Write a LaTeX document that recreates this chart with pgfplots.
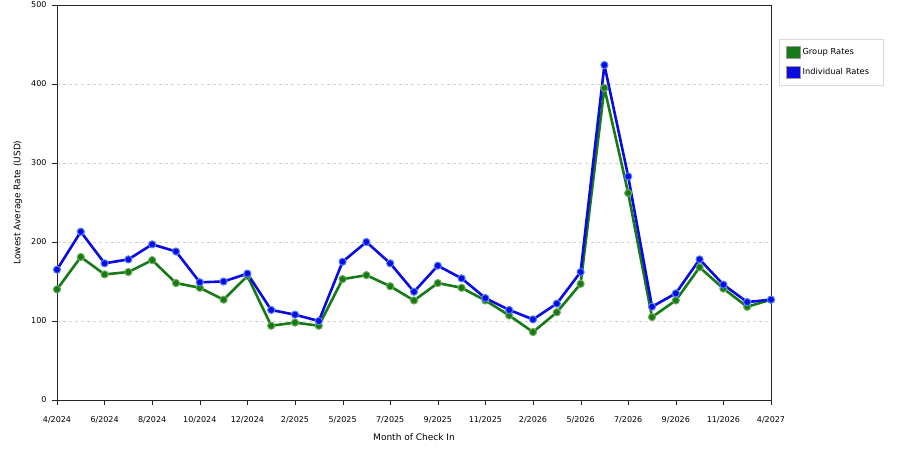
\documentclass[border=0pt]{standalone}
\usepackage{pgfplots}
\pgfplotsset{compat=1.18}
\usepackage{fontspec}
\setmainfont{DejaVu Sans}
\definecolor{grp}{RGB}{22,122,22}
\definecolor{grplt}{RGB}{110,170,90}
\definecolor{ind}{RGB}{10,10,225}
\definecolor{indlt}{RGB}{80,130,255}

\begin{document}
\begin{tikzpicture}[font=\fontsize{8}{9.6}\selectfont]
  % page size = 900 x 450 (1pt per pixel), axis box at (57,50)-(771,445)
  \path[use as bounding box] (-57pt,-50pt) rectangle (843pt,400pt);
  \begin{axis}[
      scale only axis, width=714pt, height=395pt,
      xmin=0, xmax=30, ymin=0, ymax=500,
      xtick={0,2,...,30},
      xticklabels={4/2024,6/2024,8/2024,10/2024,12/2024,2/2025,5/2025,7/2025,
        9/2025,11/2025,2/2026,5/2026,7/2026,9/2026,11/2026,4/2027},
      ytick={0,100,...,500},
      tick align=outside, major tick length=5pt,
      xtick pos=bottom, ytick pos=left,
      axis line style={black!85}, tick style={black!85},
      ymajorgrids=true, grid style={dashed, gray!35},
      /pgf/number format/assume math mode=true,
      xticklabel style={yshift=-8pt},
      yticklabel style={xshift=-2pt},
      xlabel={Month of Check In}, ylabel={Lowest Average Rate (USD)},
      every axis x label/.style={at={(axis description cs:0.5,0)}, anchor=center,
        yshift=-37pt, font=\fontsize{9}{10.8}\selectfont},
      every axis y label/.style={at={(axis description cs:0,0.5)}, anchor=center,
        xshift=-39pt, rotate=90, font=\fontsize{9}{10.8}\selectfont},
      legend style={at={(1.011,0.914)}, anchor=north west, draw=gray!30,
        fill=white, inner xsep=7pt, inner ysep=7pt, row sep=7pt,
        cells={anchor=west, inner xsep=6pt, text width=72pt},
        font=\fontsize{8.3}{10}\selectfont},
      legend image code/.code={\draw[#1, mark=none, line width=0.5pt, draw=black!40, fill] (0pt,-6pt) rectangle (14pt,6pt);},
    ]
    \addplot[color=grp, line width=2.6pt, line join=round, mark=*, mark size=3.6pt,
      mark options={fill=grp, draw=grplt, line width=1pt}]
      coordinates {
      (0,140) (1,181) (2,159) (3,162) (4,177) (5,148) (6,142) (7,127)
      (8,157) (9,94) (10,98) (11,94) (12,153) (13,158) (14,144) (15,126)
      (16,148) (17,142) (18,126) (19,107) (20,86) (21,111) (22,147)
      (23,395) (24,262) (25,105) (26,126) (27,168) (28,141) (29,118) (30,127)};
    \addlegendentry{Group Rates}
    \addplot[color=ind, line width=2.6pt, line join=round, mark=*, mark size=3.6pt,
      mark options={fill=ind, draw=indlt, line width=1pt}]
      coordinates {
      (0,165) (1,213) (2,173) (3,178) (4,197) (5,188) (6,149) (7,150)
      (8,160) (9,114) (10,108) (11,100) (12,175) (13,200) (14,173) (15,137)
      (16,170) (17,154) (18,129) (19,114) (20,102) (21,122) (22,162)
      (23,424) (24,283) (25,118) (26,135) (27,178) (28,146) (29,124) (30,127)};
    \addlegendentry{Individual Rates}
  \end{axis}
\end{tikzpicture}
\end{document}
